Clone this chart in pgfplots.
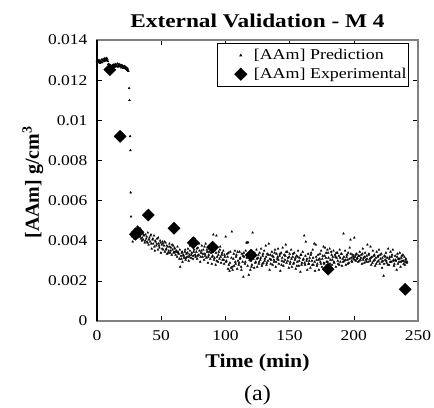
\documentclass[border=0pt]{standalone}
\usepackage{pgfplots}
\pgfplotsset{compat=1.18}
\usepackage{pgfplotstable}
\usepackage{fontspec}
\setmainfont{Liberation Serif}

% model prediction, y in 1e-3 g/cm^3
\pgfplotstableread{
x y
0 12.95
0.4 12.90
0.8 12.98
1.2 12.88
1.6 13.00
2 12.92
2.4 12.85
2.8 12.96
3.2 12.90
3.6 13.02
4 12.88
4.4 12.98
4.8 13.05
5.2 12.93
5.6 13.00
6 13.08
6.4 12.96
6.8 13.03
7.2 13.10
7.6 13.00
8 13.06
8.4 12.95
8.8 12.80
9.2 12.70
9.6 12.62
10 12.58
10.4 12.65
10.8 12.72
11.2 12.60
11.6 12.68
12 12.75
12.4 12.62
12.8 12.70
13.2 12.78
13.6 12.65
14 12.72
14.4 12.80
14.8 12.68
15.2 12.76
15.6 12.70
16 12.82
16.4 12.66
16.8 12.74
17.2 12.80
17.6 12.68
18 12.76
18.4 12.70
18.8 12.62
19.2 12.75
19.6 12.66
20 12.72
20.4 12.60
20.8 12.68
21.2 12.62
21.6 12.70
22 12.58
22.4 12.64
22.8 12.55
23.2 12.62
23.6 12.50
24 12.56
24.4 12.45
25 11.6
25.3 11.0
25.8 9.2
26 8.5
26.2 6.4
26.5 5.2
27 4.4
27.4 4.2
27.8 3.95
28.2 4.3
28.6 4.5
29 4.1
29.4 4.4
29.8 4.6
30.2 4.2
30.6 4.5
31 4.3
31.4 4.7
31.8 4.4
32.2 4.6
32.6 4.2
33 4.5
33.4 4.3
33.8 4.6
34.2 4.1
34.6 4.4
35 4.0
35.4 4.35
36.0 4.05
36.6 4.25
37.2 3.90
37.8 4.30
38.4 4.10
39.0 3.95
39.6 4.40
40.2 3.80
40.8 4.15
41.4 3.95
42.0 4.30
42.6 3.60
43.2 4.05
43.8 3.85
44.4 4.25
45.0 3.50
45.6 3.95
46.2 3.75
46.8 4.10
47.4 3.55
48.0 3.85
48.6 3.65
49.2 4.00
49.8 3.40
50.4 3.80
51.0 3.95
51.6 3.55
52.2 3.75
52.8 3.45
53.4 3.90
54.0 3.60
54.6 3.35
55.2 3.70
55.8 3.50
56.4 3.85
57.0 3.40
57.6 3.65
58.2 3.30
58.8 3.55
59.4 3.75
60.0 3.45
60.6 3.60
61.2 3.30
61.8 3.50
62.4 3.20
63.0 3.45
63.6 3.35
64.2 3.10
64.8 2.70
65.4 3.25
66.0 3.40
66.6 2.95
67.2 3.30
67.8 3.15
68.4 3.45
69.0 3.05
69.6 3.35
70.2 3.20
70.8 3.60
71.4 3.00
72.0 3.30
72.6 3.75
73.2 3.15
73.8 3.40
74.4 3.95
75.0 3.25
75.6 3.55
76.2 4.10
76.8 3.20
77.4 3.45
78.0 3.10
78.6 3.65
79.2 3.30
79.8 3.50
80.4 2.95
81.0 3.40
81.6 3.75
82.2 3.20
82.8 3.55
83.4 3.05
84.0 3.35
84.6 3.85
85.2 3.15
85.8 3.45
86.4 2.90
87.0 3.30
87.6 3.60
88.2 3.10
88.8 3.40
89.4 2.85
90.0 3.25
90.6 4.30
91.2 3.05
91.8 3.55
92.4 2.80
93.0 4.25
93.6 3.20
94.2 2.95
94.8 3.45
95.4 3.10
96.0 3.70
96.6 2.90
97.2 3.30
97.8 3.05
98.4 3.50
99.0 2.85
99.6 3.20
100.2 4.20
100.8 3.00
101.4 3.35
102.0 2.60
102.6 2.80
103.2 2.50
103.8 3.45
104.4 2.65
105.0 4.45
105.6 2.55
106.2 3.10
106.8 2.75
107.4 3.50
108.0 2.85
108.6 3.30
109.2 2.60
109.8 3.00
110.4 2.80
111.0 3.45
111.6 3.15
112.2 2.70
112.8 3.35
113.4 2.95
114.0 2.20
114.6 3.20
115.2 2.85
115.8 3.50
116.4 3.90
117.0 3.90
117.6 3.92
118.2 2.30
118.8 3.05
119.4 2.55
120.0 3.35
120.6 2.80
121.2 4.40
121.8 3.10
122.4 2.65
123.0 3.25
123.6 2.95
124.2 3.55
124.8 2.70
125.4 3.15
126.0 2.85
126.6 3.40
127.2 3.05
127.8 3.60
128.4 2.75
129.0 3.25
129.6 2.90
130.2 3.50
130.8 3.10
131.4 3.75
132.0 2.80
132.6 3.35
133.2 3.00
133.8 3.85
134.4 2.55
135.0 3.30
135.6 3.05
136.2 3.45
136.8 2.80
137.4 3.20
138.0 2.95
138.6 3.55
139.2 2.70
139.8 3.35
140.4 3.10
141.0 3.60
141.6 2.85
142.2 3.25
142.8 2.50
143.4 3.40
144.0 3.00
144.6 3.65
145.2 2.75
145.8 3.30
146.4 3.05
147.0 3.80
147.6 2.90
148.2 3.45
148.8 3.15
149.4 2.65
150.0 3.35
150.6 2.95
151.2 3.55
151.8 2.70
152.4 3.20
153.0 2.85
153.6 3.40
154.2 3.05
154.8 2.60
155.4 3.25
156.0 2.95
156.6 3.50
157.2 2.75
157.8 3.15
158.4 2.45
159.0 3.30
159.6 2.90
160.2 3.45
160.8 3.10
161.4 4.25
162.0 2.80
162.6 3.95
163.2 3.00
163.8 2.55
164.4 3.35
165.0 2.85
165.6 3.15
166.2 2.65
166.8 3.40
167.4 3.00
168.0 3.55
168.6 2.80
169.2 3.85
169.8 2.50
170.4 3.80
171.0 3.05
171.6 2.85
172.2 3.30
172.8 2.55
173.4 3.10
174.0 2.95
174.6 3.50
175.2 2.70
175.8 3.25
176.4 3.70
177.0 2.85
177.6 3.65
178.2 3.15
178.8 2.95
179.4 3.55
180.0 3.40
180.6 2.75
181.2 3.60
181.8 3.05
182.4 3.45
183.0 2.80
183.6 3.20
184.2 3.50
184.8 2.90
185.4 3.30
186.0 2.70
186.6 3.15
187.2 3.40
187.8 2.85
188.4 3.25
189.0 3.55
189.6 2.95
190.2 3.35
190.8 2.75
191.4 3.10
192.0 4.35
192.6 3.00
193.2 3.50
193.8 2.80
194.4 3.20
195.0 3.05
195.6 3.40
196.2 2.90
196.8 3.65
197.4 4.05
198.0 3.15
198.6 2.95
199.2 3.30
199.8 3.10
200.4 4.15
201.0 3.20
201.6 3.00
202.2 3.35
202.8 3.15
203.4 2.95
204.0 3.25
204.6 3.45
205.2 3.05
205.8 3.30
206.4 2.85
207.0 3.60
207.6 3.15
208.2 2.90
208.8 3.40
209.4 3.05
210.0 3.25
210.6 3.80
211.2 2.95
211.8 3.35
212.4 3.10
213.0 3.70
213.6 2.80
214.2 3.20
214.8 3.50
215.4 3.00
216.0 3.30
216.6 2.75
217.2 3.15
217.8 3.45
218.4 2.95
219.0 3.25
219.6 3.55
220.2 2.85
220.8 3.10
221.4 3.35
222.0 2.65
222.6 3.00
223.2 2.25
223.8 3.25
224.4 3.05
225.0 3.40
225.6 2.90
226.2 3.15
226.8 3.60
227.4 2.80
228.0 3.20
228.6 3.45
229.2 2.95
229.8 3.30
230.4 3.55
231.0 3.05
231.6 2.85
232.2 3.25
232.8 3.00
233.4 2.55
234.0 3.35
234.6 3.10
235.2 2.95
235.8 3.40
236.4 2.70
237.0 3.15
237.6 3.00
238.2 3.30
238.8 2.85
239.4 3.20
240.0 2.95
240.6 3.10
241.2 2.90
}\pred

% more prediction points (same run, in between the above)
\pgfplotstableread{
x y
27.2 4.25
28.0 4.45
28.8 4.15
29.6 4.35
30.4 4.55
31.2 4.30
32.0 4.50
32.8 4.35
33.6 4.20
34.4 4.45
35.2 4.15
36.3 4.30
37.5 4.00
38.7 4.20
39.3 3.90
40.5 4.05
41.7 4.25
42.3 3.85
43.5 4.10
44.7 3.70
45.3 4.00
46.5 3.85
47.7 4.15
48.3 3.75
49.5 3.90
50.7 3.60
51.3 3.85
52.5 3.95
53.7 3.55
54.3 3.75
55.5 3.40
56.7 3.70
57.3 3.50
58.5 3.80
59.7 3.40
60.3 3.65
61.5 3.45
62.7 3.70
63.3 3.40
64.5 3.55
65.7 3.10
66.3 3.45
67.5 3.25
68.7 3.55
69.3 3.15
70.5 3.40
71.7 3.20
72.3 3.50
73.5 3.30
74.7 3.10
75.3 3.45
76.5 3.30
77.7 3.60
78.3 3.25
79.5 3.85
80.7 3.20
81.3 3.50
82.5 3.35
83.7 3.70
84.3 3.25
85.5 3.55
86.7 3.20
87.3 3.45
88.5 3.75
89.7 3.20
90.3 3.45
91.5 3.15
92.7 3.40
93.3 3.00
94.5 3.30
95.7 3.55
96.3 3.20
97.5 3.40
98.7 3.05
99.3 3.30
100.5 2.95
101.7 3.20
102.3 3.40
103.5 2.90
104.7 3.15
105.3 2.70
106.5 3.35
107.7 2.95
108.3 3.20
109.5 3.45
110.7 2.90
111.3 3.10
112.5 2.55
113.7 3.25
114.3 3.40
115.5 2.95
116.7 3.15
117.3 2.75
118.5 3.30
119.7 3.00
120.3 2.70
121.5 3.20
122.7 3.40
123.3 2.90
124.5 3.10
125.7 3.30
126.3 2.95
127.5 3.15
128.7 2.85
129.3 3.35
130.5 3.00
131.7 3.20
132.3 2.90
133.5 3.30
134.7 3.10
135.3 2.85
136.5 3.25
137.7 3.05
138.3 3.40
139.5 2.95
140.7 3.20
141.3 3.05
142.5 3.35
143.7 2.80
144.3 3.15
145.5 2.95
146.7 3.25
147.3 3.45
148.5 3.00
149.7 3.20
150.3 2.85
151.5 3.10
152.7 3.35
153.3 2.90
154.5 3.15
155.7 2.75
156.3 3.20
157.5 3.00
158.7 3.30
159.3 2.80
160.5 3.05
161.7 2.90
162.3 3.25
163.5 3.10
164.7 2.85
165.3 3.00
166.5 3.30
167.7 2.80
168.3 3.15
169.5 2.95
170.7 3.20
171.3 2.75
172.5 3.05
173.7 3.35
174.3 2.85
175.5 3.10
176.7 2.90
177.3 3.25
178.5 3.40
179.7 2.95
180.3 3.15
181.5 2.85
182.7 3.30
183.3 3.05
184.5 2.95
185.7 3.20
186.3 3.40
187.5 3.00
188.7 2.80
189.3 3.15
190.5 3.35
191.7 2.95
192.3 3.20
193.5 3.05
194.7 3.30
195.3 2.85
196.5 3.10
197.7 3.35
198.3 3.00
199.5 3.20
200.7 3.05
201.3 3.30
202.5 3.10
203.7 3.25
204.3 3.00
205.5 3.15
206.7 3.35
207.3 3.05
208.5 3.20
209.7 2.95
210.3 3.10
211.5 3.30
212.7 3.00
213.3 3.15
214.5 2.90
215.7 3.25
216.3 3.05
217.5 2.85
218.7 3.20
219.3 3.00
220.5 3.30
221.7 2.95
222.3 3.15
223.5 2.85
224.7 3.20
225.3 3.00
226.5 2.80
227.7 3.10
228.3 2.95
229.5 3.20
230.7 3.00
231.3 2.75
232.5 3.05
233.7 3.20
234.3 2.85
235.5 3.10
236.7 2.95
237.3 3.25
238.5 3.00
239.7 2.80
240.3 3.05
241.5 2.95
}\predb

% experimental points
\pgfplotstableread{
x y
10 12.52
18 9.20
30 4.32
32 4.42
40 5.28
60 4.62
75 3.90
90 3.68
120 3.28
180 2.58
240 1.58
}\expt

\begin{document}
\begin{tikzpicture}
% page = 434 x 408 bp, axis box 321 x 281 bp at (0,0)
\path[use as bounding box] (-97bp,-87bp) rectangle (337bp,321bp);
\begin{axis}[
    scale only axis,
    width=321bp, height=281bp,
    xmin=0, xmax=250, ymin=0, ymax=14,
    xtick={0,50,100,150,200,250},
    ytick={0,2,4,6,8,10,12,14},
    yticklabels={0,0.002,0.004,0.006,0.008,0.01,0.012,0.014},
    tick align=inside,
    major tick length=5bp,
    tick style={black, line width=0.6pt},
    axis line style={black!50, line width=1.2bp},
    /pgf/number format/assume math mode=true,
    tick label style={font=\fontsize{15}{17}\selectfont, xscale=1.17, inner sep=0pt},
    x tick label style={anchor=base, yshift=-19bp},
    y tick label style={anchor=east, xshift=-8bp},
    legend style={at={(rel axis cs:0.972,0.989)}, anchor=north east,
        draw=black, line width=0.7pt, font=\fontsize{15}{17}\selectfont,
        row sep=5bp, inner xsep=2bp, inner ysep=5bp,
        nodes={inner xsep=0pt, inner ysep=1bp},
        /tikz/every even column/.append style={column sep=6bp}},
    legend image code/.code={
        \path[draw=none] (0bp,0bp) -- (34bp,0bp);
        \draw[only marks, mark repeat=1, #1] plot coordinates {(21bp,0bp)};
    },
    legend cell align=left,
    clip=false,
]
\addplot[only marks, mark=triangle*, mark size=1.1pt, black] table {\pred};
\addlegendentry{\scalebox{1.2}[1]{[AAm] Prediction}}
\addplot[only marks, mark=square*, mark size=4.3pt, mark options={rotate=45}, black] table {\expt};
\addlegendentry{\scalebox{1.2}[1]{[AAm] Experimental}}
\addplot[only marks, mark=triangle*, mark size=1.1pt, black, forget plot] table {\predb};
\draw[black, line width=1.2bp] (rel axis cs:0,0) -- (rel axis cs:0,1);
\node[anchor=base, font=\fontsize{19.5}{21}\selectfont\bfseries, xscale=1.2, inner sep=0pt]
    at (rel axis cs:0.5,1) [yshift=12bp] {External Validation - M 4};
\node[anchor=base, font=\fontsize{19.5}{21}\selectfont\bfseries, xscale=1.12, inner sep=0pt]
    at (rel axis cs:0.5,0) [yshift=-46bp] {Time (min)};
\node[anchor=base, rotate=90, font=\fontsize{20}{22}\selectfont\bfseries, inner sep=0pt]
    at ([xshift=-58bp, yshift=-2bp]rel axis cs:0,0.5) {[AAm] g/cm\textsuperscript{3}};
\node[anchor=base, font=\fontsize{22}{24}\selectfont, xscale=1.1, inner sep=0pt]
    at (rel axis cs:0.5,0) [yshift=-79bp] {(a)};
\end{axis}
\end{tikzpicture}
\end{document}
